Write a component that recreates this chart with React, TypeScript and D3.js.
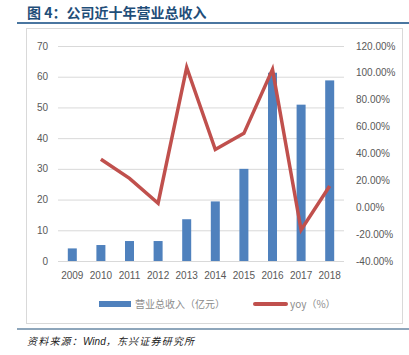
import React from "react";
import * as d3 from "d3";

const years = ["2009","2010","2011","2012","2013","2014","2015","2016","2017","2018"];
const revenue = [4.1, 5.2, 6.5, 6.5, 13.6, 19.4, 30.0, 61.3, 50.9, 58.8];
const yoyYears = ["2010","2011","2012","2013","2014","2015","2016","2017","2018"];
const yoy = [35.7, 21.5, 3.0, 104.0, 43.0, 55.0, 102.6, -16.9, 15.8];
const leftTicks = [0,10,20,30,40,50,60,70];
const rightTicks = [-40,-20,0,20,40,60,80,100,120];

export default function App() {
  const W = 409, H = 355;
  const x0 = 58, x1 = 344, yTop = 46, yBot = 261;
  const x = d3.scaleBand<string>().domain(years).range([x0, x1]).padding(0);
  const yL = d3.scaleLinear().domain([0, 70]).range([yBot, yTop]);
  const yR = d3.scaleLinear().domain([-40, 120]).range([yBot, yTop]);
  const bw = 9;
  const line = d3.line<number>()
    .x((_, i) => (x(yoyYears[i]) as number) + x.bandwidth() / 2)
    .y(d => yR(d));
  const axisFont = "'Liberation Sans', Arial, sans-serif";
  const cjk = "'Noto Sans CJK SC', sans-serif";
  return (
    <svg width={W} height={H} style={{ position: "absolute", left: 0, top: 0, background: "#fff" }}>
      <text x={27} y={18} fontFamily={cjk} fontWeight="bold" fontSize={14} fill="#1F4E79">图 4：公司近十年营业总收入</text>
      <line x1={17} x2={409} y1={23} y2={23} stroke="#4A76A0" strokeWidth={2} />
      <rect x={26.5} y={28.5} width={376} height={295} fill="#fff" stroke="#D9D9D9" strokeWidth={1} />
      {leftTicks.map(t => (
        <g key={"l" + t}>
          <line x1={x0} x2={x1} y1={yL(t) + 0.5} y2={yL(t) + 0.5} stroke="#D9D9D9" strokeWidth={1} />
          <text x={48} y={yL(t) + 3.5} textAnchor="end" fontFamily={axisFont} fontSize={10} fill="#595959">{t}</text>
        </g>
      ))}
      {rightTicks.map(t => (
        <text key={"r" + t} x={356} y={yR(t) + 3.5} fontFamily={axisFont} fontSize={10} fill="#595959">{t.toFixed(2) + "%"}</text>
      ))}
      {years.map((yr, i) => (
        <rect key={yr} x={(x(yr) as number) + x.bandwidth() / 2 - bw / 2} y={yL(revenue[i])} width={bw} height={yBot - yL(revenue[i])} fill="#4F81BD" />
      ))}
      <path d={line(yoy) || ""} fill="none" stroke="#C0504D" strokeWidth={3.5} strokeLinejoin="miter" />
      {years.map(yr => (
        <text key={"x" + yr} x={(x(yr) as number) + x.bandwidth() / 2} y={279} textAnchor="middle" fontFamily={axisFont} fontSize={10} fill="#595959">{yr}</text>
      ))}
      <rect x={99} y={301} width={32} height={6} fill="#4F81BD" />
      <text x={135} y={308} fontFamily={cjk} fontSize={10} fill="#8C8C8C">营业总收入（亿元）</text>
      <line x1={255} x2={286} y1={304} y2={304} stroke="#C0504D" strokeWidth={4} strokeLinecap="round" />
      <text x={290} y={308} fontFamily={cjk} fontSize={10} fill="#8C8C8C">yoy（%）</text>
      <line x1={17} x2={409} y1={329} y2={329} stroke="#1F4E79" strokeWidth={1.2} />
      <text x={27} y={345} fontFamily={cjk} fontStyle="italic" fontSize={10} letterSpacing={1.2} fill="#222">资料来源：<tspan fontFamily={axisFont} letterSpacing={0}>Wind</tspan>，东兴证券研究所</text>
    </svg>
  );
}
